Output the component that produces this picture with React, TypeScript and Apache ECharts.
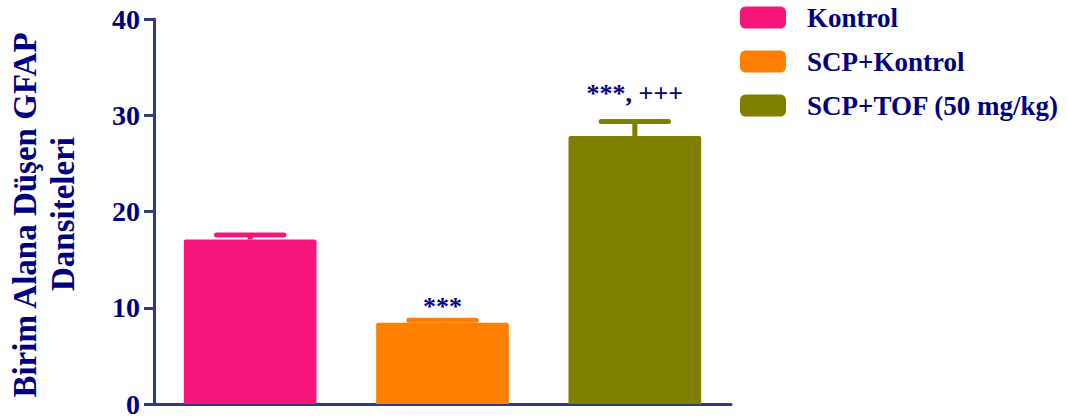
import React, { useEffect, useRef } from "react";
import * as echarts from "echarts";

const categories = ["Kontrol", "SCP+Kontrol", "SCP+TOF (50 mg/kg)"];
const means = [17.1, 8.45, 27.85];
const upperErrors = [17.55, 8.7, 29.35];
const annotations = ["", "***", "***, +++"];
const yTicks = [0, 10, 20, 30, 40];

const colors = ["#f5157b", "#ff8000", "#808000"];
const annotationLift = [0, -3, 11];
const NAVY = "#000080";
const AXIS = "#2f3a88";
const FONT = "'Liberation Serif', 'Times New Roman', serif";

export default function App() {
  const ref = useRef<HTMLDivElement>(null);
  useEffect(() => {
    if (!ref.current) return;
    const chart = echarts.init(ref.current, undefined, { renderer: "svg" });
    const barSeries = categories.map((name, i) => ({
      name,
      type: "bar",
      stack: "total",
      barWidth: "69%",
      itemStyle: { color: colors[i], borderRadius: [2, 2, 0, 0] },
      data: categories.map((_, j) => (j === i ? means[i] : "-")),
      z: 2,
    }));
    const errData = categories.map((_, i) => [i, means[i], upperErrors[i]]);
    chart.setOption({
      animation: false,
      backgroundColor: "#ffffff",
      grid: { left: 154, right: 336, top: 19, bottom: 15, containLabel: false },
      legend: {
        data: categories,
        orient: "vertical",
        left: 740,
        top: 4,
        padding: 0,
        itemWidth: 46,
        itemHeight: 22,
        itemGap: 17,
        icon: "roundRect",
        selectedMode: false,
        textStyle: {
          color: NAVY,
          fontSize: 27,
          fontWeight: "bold",
          fontFamily: FONT,
          padding: [0, 0, 0, 16],
        },
      },
      xAxis: {
        type: "category",
        data: categories,
        axisLine: { show: true, lineStyle: { color: AXIS, width: 3 } },
        axisTick: { show: false },
        axisLabel: { show: false },
        splitLine: { show: false },
      },
      yAxis: {
        type: "value",
        min: yTicks[0],
        max: yTicks[yTicks.length - 1],
        interval: 10,
        axisLine: { show: true, lineStyle: { color: AXIS, width: 3 } },
        axisTick: { show: true, length: 10, lineStyle: { color: AXIS, width: 3 } },
        axisLabel: {
          color: NAVY,
          fontSize: 28,
          fontWeight: "bold",
          fontFamily: FONT,
          margin: 14,
        },
        splitLine: { show: false },
      },
      graphic: [
        {
          type: "text",
          x: 25,
          y: 215,
          rotation: Math.PI / 2,
          style: {
            text: "Birim Alana Düşen GFAP",
            fill: NAVY,
            font: `bold 33px ${FONT}`,
            textAlign: "center",
            textVerticalAlign: "middle",
          },
        },
        {
          type: "text",
          x: 63,
          y: 214,
          rotation: Math.PI / 2,
          style: {
            text: "Dansiteleri",
            fill: NAVY,
            font: `bold 33px ${FONT}`,
            textAlign: "center",
            textVerticalAlign: "middle",
          },
        },
      ],
      series: [
        ...barSeries,
        {
          type: "custom",
          name: "err",
          z: 3,
          data: errData,
          renderItem: (params: any, api: any) => {
            const idx = api.value(0);
            const base = api.coord([idx, api.value(1)]);
            const top = api.coord([idx, api.value(2)]);
            const halfCap = api.size([1, 0])[0] * 0.175;
            const c = colors[params.dataIndex];
            const children: any[] = [
              {
                type: "line",
                shape: { x1: base[0], y1: base[1], x2: top[0], y2: top[1] },
                style: { stroke: c, lineWidth: 5 },
              },
              {
                type: "line",
                shape: { x1: top[0] - halfCap, y1: top[1], x2: top[0] + halfCap, y2: top[1] },
                style: { stroke: c, lineWidth: 5, lineCap: "round" },
              },
            ];
            const ann = annotations[params.dataIndex];
            if (ann) {
              children.push({
                type: "text",
                x: top[0],
                y: top[1] - 4 - annotationLift[params.dataIndex],
                style: {
                  text: ann,
                  fill: NAVY,
                  font: `bold 26px ${FONT}`,
                  textAlign: "center",
                  textVerticalAlign: "bottom",
                },
              });
            }
            return { type: "group", children };
          },
        },
      ],
    });
    return () => chart.dispose();
  }, []);
  return (
    <div
      ref={ref}
      style={{ position: "fixed", left: 0, top: 0, width: 1067, height: 419 }}
    />
  );
}
